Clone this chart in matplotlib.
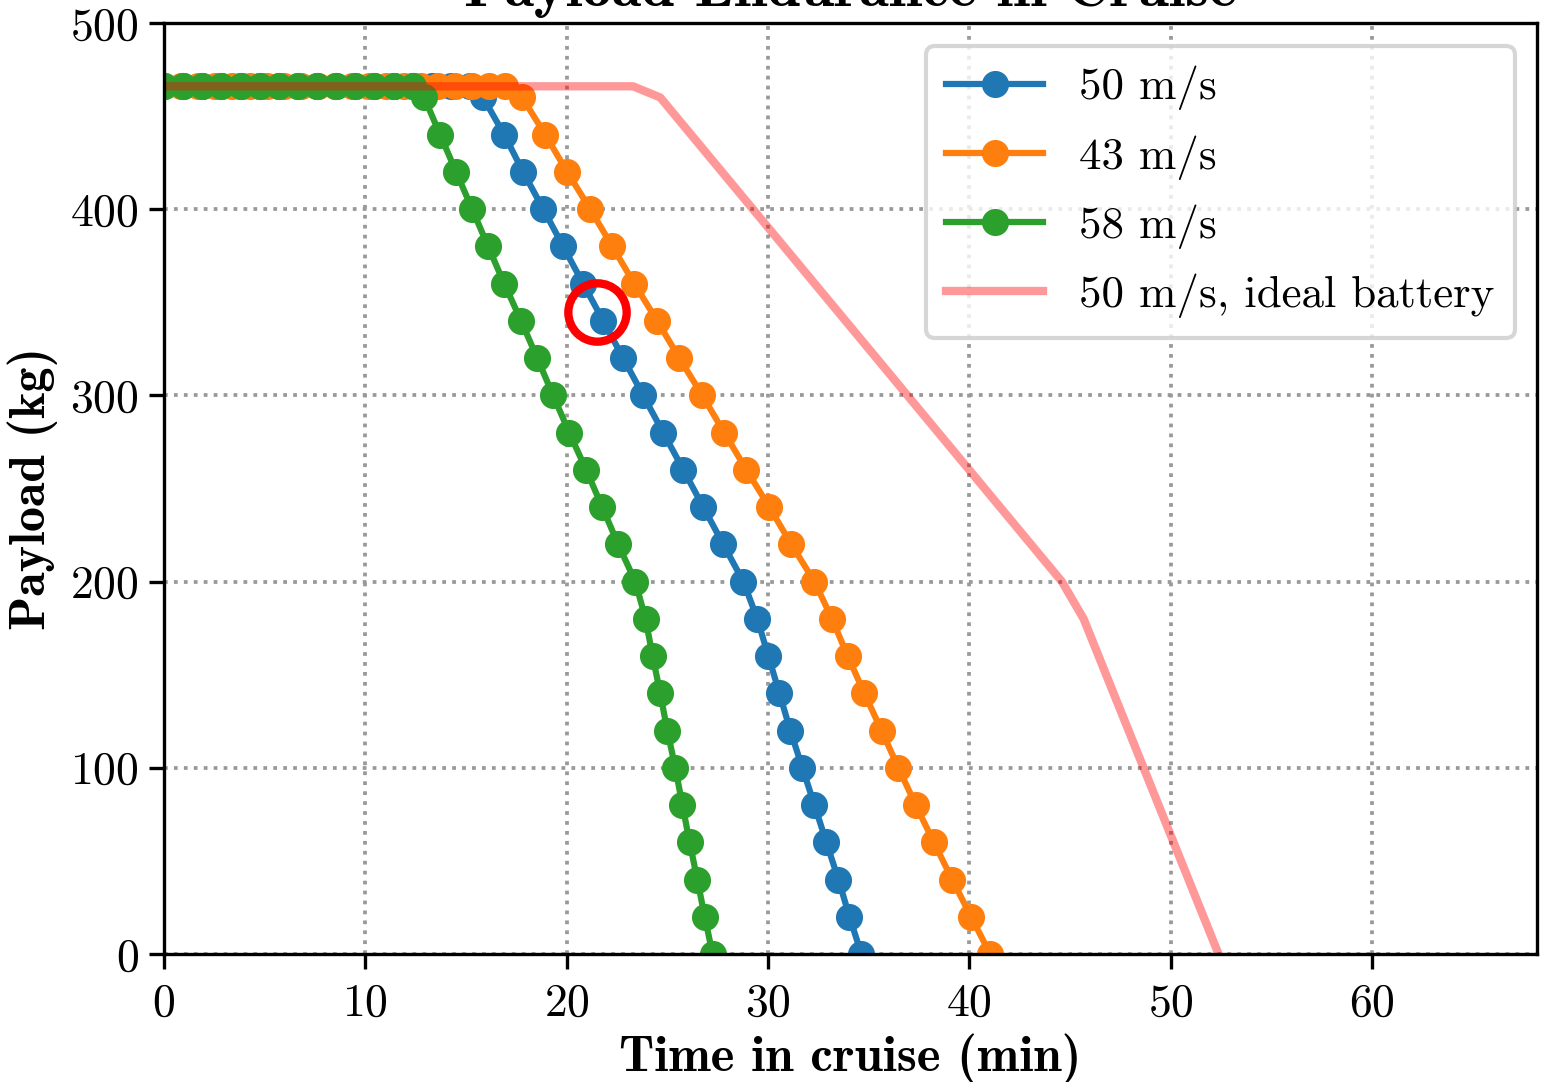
import matplotlib
matplotlib.use("Agg")
import matplotlib.pyplot as plt

plt.rcParams['font.family'] = 'cmr10'
plt.rcParams['mathtext.fontset'] = 'cm'
plt.rcParams['axes.formatter.use_mathtext'] = True
plt.rcParams['axes.unicode_minus'] = False
plt.rcParams['font.size'] = 11

# max payload (kg), held until the battery becomes the limit
max_payload = 466

# payload steps once endurance is limited
payload_steps = [460, 440, 420, 400, 380, 360, 340, 320, 300, 280, 260, 240,
                 220, 200, 180, 160, 140, 120, 100, 80, 60, 40, 20, 0]

# cruise time (min) at max payload
t_flat_50 = [0.0, 0.95, 1.9, 2.85, 3.8, 4.75, 5.7, 6.65, 7.6, 8.55, 9.5,
             10.45, 11.4, 12.35, 13.3, 14.25, 15.2]
t_flat_43 = [0.0, 0.85, 1.7, 2.55, 3.4, 4.25, 5.1, 5.95, 6.8, 7.65, 8.5,
             9.35, 10.2, 11.05, 11.9, 12.75, 13.6, 14.45, 15.3, 16.15, 16.95]
t_flat_58 = [0.0, 0.95, 1.9, 2.85, 3.8, 4.75, 5.7, 6.65, 7.6, 8.55, 9.5,
             10.45, 11.4, 12.35]

# cruise time (min) for each payload step
t_50 = [15.85, 16.9, 17.84, 18.84, 19.83, 20.82, 21.82, 22.81, 23.8, 24.8,
        25.8, 26.79, 27.78, 28.78, 29.47, 30.02, 30.57, 31.11, 31.71, 32.31,
        32.9, 33.5, 34.05, 34.64]
t_43 = [17.79, 18.94, 20.03, 21.17, 22.27, 23.36, 24.5, 25.6, 26.74, 27.83,
        28.93, 30.07, 31.16, 32.31, 33.18, 33.96, 34.79, 35.64, 36.48, 37.34,
        38.24, 39.15, 40.09, 41.04]
t_58 = [12.92, 13.72, 14.51, 15.31, 16.1, 16.9, 17.74, 18.54, 19.33, 20.13,
        20.97, 21.77, 22.56, 23.41, 23.92, 24.27, 24.65, 25.0, 25.4, 25.75,
        26.11, 26.49, 26.86, 27.25]

# ideal battery at 50 m/s
t_ideal = [0.0, 23.3, 24.65, 44.6, 45.68, 52.38]
p_ideal = [466, 466, 460, 200, 180, 0]

# selected design point
design_t = 21.52
design_p = 344.8

W, H, DPI = 1549, 1082, 300
fig = plt.figure(figsize=(W / DPI, H / DPI), dpi=DPI)
ax = fig.add_axes([164 / W, (H - 954) / H, (1537 - 164) / W, (954 - 23) / H])

series = [
    (t_flat_50, t_50, '50 m/s', 'tab:blue'),
    (t_flat_43, t_43, '43 m/s', 'tab:orange'),
    (t_flat_58, t_58, '58 m/s', 'tab:green'),
]
for t_flat, t_down, label, color in series:
    t = t_flat + t_down
    p = [max_payload] * len(t_flat) + payload_steps
    ax.plot(t, p, '-o', color=color, label=label, lw=1.5, ms=5.5)

ax.plot(t_ideal, p_ideal, color='red', alpha=0.4, lw=2.0,
        label='50 m/s, ideal battery')
ax.plot(design_t, design_p, 'o', mfc='none', mec='red', ms=14, mew=2.0,
        zorder=5)

ax.set_xlim(0, 68.2)
ax.set_ylim(0, 500)
ax.set_xticks([0, 10, 20, 30, 40, 50, 60])
ax.set_yticks([0, 100, 200, 300, 400, 500])
ax.tick_params(axis='y', pad=2.5)
ax.grid(True, linestyle=':', color='#999999', lw=0.9)

ax.set_xlabel('Time in cruise (min)', fontfamily='cmb10', fontsize=12.2,
              labelpad=2)
ax.set_ylabel('Payload (kg)', fontfamily='cmb10', fontsize=12, labelpad=3)
ax.set_title('Payload Endurance in Cruise', fontfamily='cmb10',
             fontsize=14.4, pad=4)

ax.legend(loc='upper right', fontsize=10.8, labelspacing=0.55,
          handlelength=2.15, borderpad=0.45)

fig.savefig('out.png', dpi=DPI)
